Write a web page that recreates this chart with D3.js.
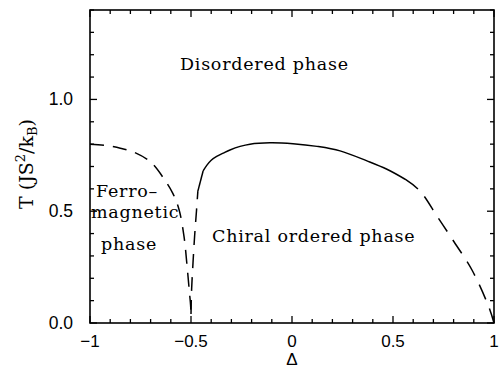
<!DOCTYPE html>
<html><head><meta charset="utf-8">
<script src="https://cdn.jsdelivr.net/npm/d3@7"></script>
<style>
html,body{margin:0;padding:0;background:#fff;}
svg{display:block;}
</style></head>
<body>
<script>
// Data
const ferroDelta = [-1, -0.93, -0.85, -0.78, -0.70, -0.63, -0.59, -0.56, -0.535, -0.52, -0.508, -0.502, -0.5];
const ferroT     = [0.80, 0.795, 0.782, 0.763, 0.72, 0.64, 0.58, 0.51, 0.39, 0.26, 0.14, 0.08, 0.04];

const chiralLeftDelta = [-0.5, -0.497, -0.49, -0.482, -0.473, -0.466];
const chiralLeftT     = [0.04, 0.15, 0.27, 0.39, 0.50, 0.59];

const chiralKinkDelta = [-0.466, -0.44];
const chiralKinkT     = [0.59, 0.68];

const chiralSolidDelta = [-0.44, -0.422, -0.40, -0.373, -0.34, -0.307, -0.257, -0.208, -0.109, 0.005, 0.124, 0.238, 0.371, 0.47, 0.56];
const chiralSolidT     = [0.68, 0.705, 0.728, 0.745, 0.76, 0.774, 0.79, 0.80, 0.806, 0.802, 0.79, 0.77, 0.725, 0.6875, 0.643];

const chiralRightDelta = [0.56, 0.634, 0.718, 0.797, 0.891, 0.975, 1.0];
const chiralRightT     = [0.643, 0.59, 0.478, 0.37, 0.237, 0.07, 0.0];

const xMajorTicks = [-1, -0.5, 0, 0.5, 1];
const xTickLabels = ["\u22121", "\u22120.5", "0", "0.5", "1"];
const yMajorTicks = [0, 0.5, 1.0];
const yTickLabels = ["0.0", "0.5", "1.0"];

(function () {
const W = 500, H = 370;
const pL = 90, pR = 494, pT = 10, pB = 323;

const svg = d3.select("body").append("svg").attr("width", W).attr("height", H);

const x = d3.scaleLinear().domain([-1, 1]).range([pL, pR]);
const y = d3.scaleLinear().domain([0, 1.4]).range([pB, pT]);

const minorX = d3.range(-10, 11).map(i => i / 10);
const minorY = d3.range(0, 15).map(i => i / 10);

// Frame
svg.append("rect").attr("x", pL).attr("y", pT)
  .attr("width", pR - pL).attr("height", pB - pT)
  .attr("fill", "none").attr("stroke", "#000").attr("stroke-width", 1.6);

const isMajor = (v, arr) => arr.some(m => Math.abs(m - v) < 1e-9);

// Ticks (inward, all four sides)
const tg = svg.append("g").attr("stroke", "#000").attr("stroke-width", 1.3);
minorX.forEach(v => {
  const L = isMajor(v, xMajorTicks) ? 7 : 4;
  tg.append("line").attr("x1", x(v)).attr("x2", x(v)).attr("y1", pB).attr("y2", pB - L);
  tg.append("line").attr("x1", x(v)).attr("x2", x(v)).attr("y1", pT).attr("y2", pT + L);
});
minorY.forEach(v => {
  const L = isMajor(v, yMajorTicks) ? 7 : 4;
  tg.append("line").attr("y1", y(v)).attr("y2", y(v)).attr("x1", pL).attr("x2", pL + L);
  tg.append("line").attr("y1", y(v)).attr("y2", y(v)).attr("x1", pR).attr("x2", pR - L);
});

// Tick labels
const sans = "'Liberation Sans', Arial, sans-serif";
xMajorTicks.forEach((v, i) => {
  svg.append("text").attr("x", x(v)).attr("y", pB + 24)
    .attr("text-anchor", "middle").attr("font-family", sans).attr("font-size", 17)
    .text(xTickLabels[i]);
});
yMajorTicks.forEach((v, i) => {
  svg.append("text").attr("x", pL - 17).attr("y", y(v) + 6)
    .attr("text-anchor", "end").attr("font-family", sans).attr("font-size", 17.5)
    .text(yTickLabels[i]);
});

// Axis titles
svg.append("text").attr("x", x(0)).attr("y", 365)
  .attr("text-anchor", "middle").attr("font-family", sans).attr("font-size", 17)
  .text("\u0394");

const serif = "'DejaVu Serif', 'Liberation Serif', serif";
const yl = svg.append("text")
  .attr("transform", `translate(33,164) rotate(-90)`)
  .attr("text-anchor", "middle").attr("font-family", serif).attr("font-size", 19);
yl.append("tspan").text("T (JS");
yl.append("tspan").attr("font-size", 13).attr("dy", -8).text("2");
yl.append("tspan").attr("dy", 8).text("/k");
yl.append("tspan").attr("font-size", 13).attr("dy", 4).text("B");
yl.append("tspan").attr("dy", -4).text(")");

// Curves
const lineCR = d3.line().x(d => x(d[0])).y(d => y(d[1])).curve(d3.curveCatmullRom);
const zip = (a, b) => a.map((v, i) => [v, b[i]]);
const draw = (pts, dash) => {
  const p = svg.append("path").datum(pts).attr("d", lineCR)
    .attr("fill", "none").attr("stroke", "#000").attr("stroke-width", 1.5)
    .attr("stroke-linejoin", "round");
  if (dash) p.attr("stroke-dasharray", dash);
};
draw(zip(ferroDelta, ferroT), "14,9");
draw(zip(chiralLeftDelta, chiralLeftT), "14,9");
draw(zip(chiralKinkDelta, chiralKinkT), null);
draw(zip(chiralSolidDelta, chiralSolidT), null);
draw(zip(chiralRightDelta, chiralRightT), "16,10");

// Region labels
const lab = (tx, ty, s) => svg.append("text").attr("x", tx).attr("y", ty)
  .attr("font-family", serif).attr("font-size", 17.5)
  .attr("letter-spacing", 0.75).text(s);
lab(180, 70, "Disordered phase");
lab(96, 197, "Ferro\u2013");
lab(91, 218, "magnetic");
lab(101, 250, "phase");
lab(212, 242, "Chiral ordered phase");
})();
</script>
</body></html>
